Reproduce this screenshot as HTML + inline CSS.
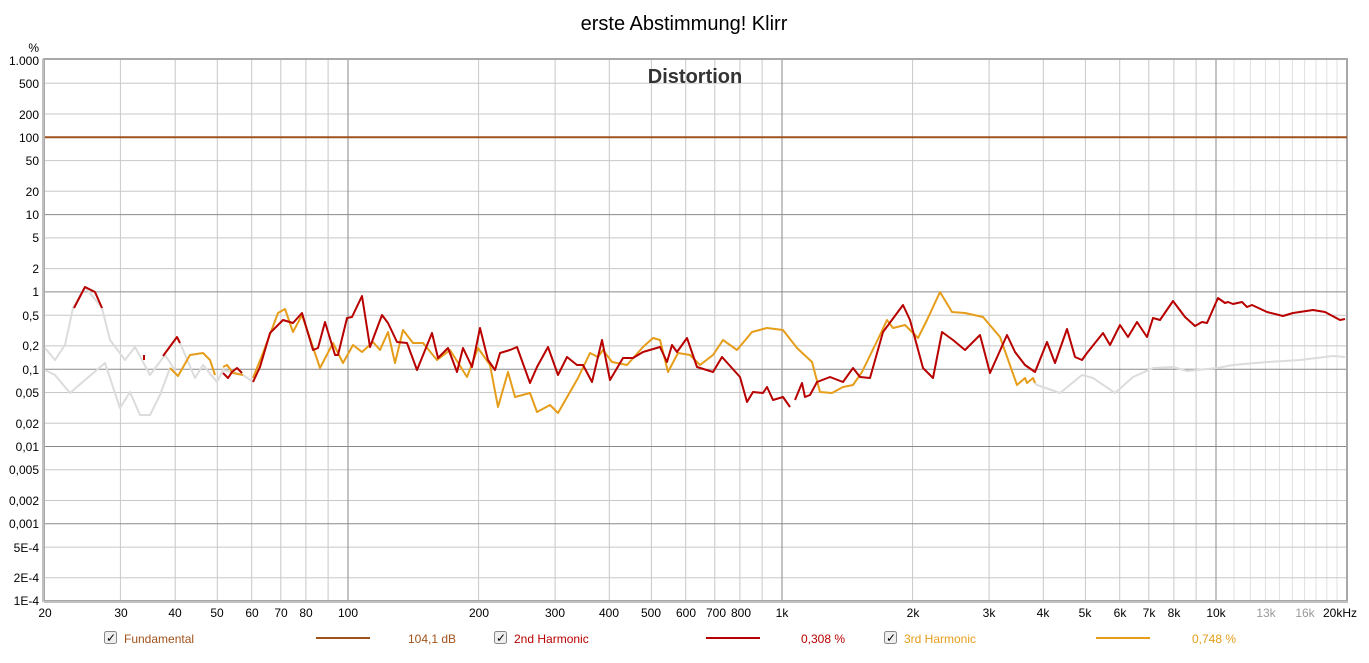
<!DOCTYPE html>
<html><head><meta charset="utf-8"><style>
body{margin:0;background:#fff;width:1369px;height:658px;overflow:hidden;font-family:"Liberation Sans",sans-serif;}
</style></head><body>
<svg width="1369" height="658" xmlns="http://www.w3.org/2000/svg" font-family="Liberation Sans, sans-serif">
<rect width="1369" height="658" fill="#fff"/>
<text x="684" y="30" font-size="20" text-anchor="middle" fill="#000">erste Abstimmung! Klirr</text>
<g stroke="#c8c8c8" stroke-width="1">
<line x1="120.4" y1="60" x2="120.4" y2="601"/><line x1="175.2" y1="60" x2="175.2" y2="601"/><line x1="217.3" y1="60" x2="217.3" y2="601"/><line x1="251.7" y1="60" x2="251.7" y2="601"/><line x1="280.8" y1="60" x2="280.8" y2="601"/><line x1="305.9" y1="60" x2="305.9" y2="601"/><line x1="328.1" y1="60" x2="328.1" y2="601"/>
<line x1="478.6" y1="60" x2="478.6" y2="601"/><line x1="555.1" y1="60" x2="555.1" y2="601"/><line x1="609.3" y1="60" x2="609.3" y2="601"/><line x1="651.4" y1="60" x2="651.4" y2="601"/><line x1="685.7" y1="60" x2="685.7" y2="601"/><line x1="714.8" y1="60" x2="714.8" y2="601"/><line x1="739.9" y1="60" x2="739.9" y2="601"/><line x1="762.1" y1="60" x2="762.1" y2="601"/>
<line x1="912.6" y1="60" x2="912.6" y2="601"/><line x1="989.1" y1="60" x2="989.1" y2="601"/><line x1="1043.3" y1="60" x2="1043.3" y2="601"/><line x1="1085.4" y1="60" x2="1085.4" y2="601"/><line x1="1119.7" y1="60" x2="1119.7" y2="601"/><line x1="1148.8" y1="60" x2="1148.8" y2="601"/><line x1="1173.9" y1="60" x2="1173.9" y2="601"/><line x1="1196.1" y1="60" x2="1196.1" y2="601"/>
</g>
<g stroke="#e0e0e0" stroke-width="1">
<line x1="1234" y1="60" x2="1234" y2="601"/><line x1="1250.4" y1="60" x2="1250.4" y2="601"/><line x1="1265.4" y1="60" x2="1265.4" y2="601"/><line x1="1279.4" y1="60" x2="1279.4" y2="601"/><line x1="1292.4" y1="60" x2="1292.4" y2="601"/><line x1="1304.6" y1="60" x2="1304.6" y2="601"/><line x1="1316" y1="60" x2="1316" y2="601"/><line x1="1326.8" y1="60" x2="1326.8" y2="601"/><line x1="1337" y1="60" x2="1337" y2="601"/>
</g>
<g stroke="#c8c8c8" stroke-width="1">
<line x1="45" y1="83.3" x2="1347" y2="83.3"/><line x1="45" y1="114" x2="1347" y2="114"/><line x1="45" y1="160.6" x2="1347" y2="160.6"/><line x1="45" y1="191.3" x2="1347" y2="191.3"/><line x1="45" y1="237.9" x2="1347" y2="237.9"/><line x1="45" y1="268.6" x2="1347" y2="268.6"/><line x1="45" y1="315.2" x2="1347" y2="315.2"/><line x1="45" y1="345.9" x2="1347" y2="345.9"/><line x1="45" y1="392.5" x2="1347" y2="392.5"/><line x1="45" y1="423.2" x2="1347" y2="423.2"/><line x1="45" y1="469.8" x2="1347" y2="469.8"/><line x1="45" y1="500.5" x2="1347" y2="500.5"/><line x1="45" y1="547.1" x2="1347" y2="547.1"/><line x1="45" y1="577.8" x2="1347" y2="577.8"/>
</g>
<g stroke="#8a8a8a" stroke-width="1">
<line x1="348" y1="60" x2="348" y2="601"/><line x1="782" y1="60" x2="782" y2="601"/><line x1="1216" y1="60" x2="1216" y2="601"/>
<line x1="45" y1="214.6" x2="1347" y2="214.6"/><line x1="45" y1="291.9" x2="1347" y2="291.9"/><line x1="45" y1="369.2" x2="1347" y2="369.2"/><line x1="45" y1="446.5" x2="1347" y2="446.5"/><line x1="45" y1="523.8" x2="1347" y2="523.8"/>
</g>
<rect x="44" y="59" width="1303" height="542" fill="none" stroke="#a8a8a8" stroke-width="2"/>
<line x1="43" y1="59" x2="43" y2="602" stroke="#c0c0c0" stroke-width="2"/>
<line x1="44" y1="602" x2="1348" y2="602" stroke="#c0c0c0" stroke-width="2"/>
<text x="695" y="83" font-size="20" font-weight="bold" text-anchor="middle" fill="#333">Distortion</text>
<line x1="45" y1="137.3" x2="1347" y2="137.3" stroke="#a0521d" stroke-width="2"/>
<g fill="none" stroke-width="2" stroke-linejoin="round">
<polyline stroke="#dcdcdc" points="45,348 55,360 65,345 73,308 85,287 102,308 110,340 125,360 135,347 150,375 165,355 175,370"/>
<polyline stroke="#dcdcdc" points="45,370 55,375 70,393 85,380 105,363 120,408 130,392 140,415 150,415 160,395 170,368"/>
<polyline stroke="#dcdcdc" points="180,343 195,378 203,365 217,382 223,370 243,375 253,382"/>
<polyline stroke="#dcdcdc" points="1035,383 1037,385 1060,393 1082,375 1093,378 1115,393 1133,377 1153,368 1173,367 1187,371 1217,368 1233,365 1267,362 1300,360 1333,356 1345,357"/>
<polyline stroke="#e59d1a" points="170,368 178,376 190,355 203,353 210,360 215,375"/>
<polyline stroke="#e59d1a" points="223,367 227,365 233,373 243,375"/>
<polyline stroke="#e59d1a" points="253,378 263,353 278,313 285,309 293,332 302,315 320,368 333,343 343,363 353,345 362,352 373,342 380,350 388,332 395,363 403,330 413,343 423,343 437,360 450,350 467,377 478,348 490,365 498,407 508,372 515,397 530,393 537,412 550,405 558,413 578,378 590,353 598,357 603,350 612,362 627,365 643,347 653,338 660,340 668,372 678,353 690,355 700,365 713,355 723,340 737,350 752,332 767,328 783,330 797,348 812,362 820,392 832,393 843,387 853,385 862,372 880,335 887,320 893,328 905,325 918,338 927,320 940,292 952,312 965,313 983,317 1000,337 1017,385 1025,378 1027,383 1033,378 1035,383"/>
<polyline stroke="#b80000" points="74,308 85,287 95,292 102,308"/>
<polyline stroke="#b80000" points="163,356 177,337 180,343"/>
<polyline stroke="#b80000" points="144,355 144,360"/>
<polyline stroke="#b80000" points="223,373 228,378 232,372 237,368 242,373"/>
<polyline stroke="#b80000" points="253,382 260,367 270,333 283,320 293,323 302,313 313,350 318,348 325,322 335,355 338,355 347,318 352,317 362,296 370,347 382,315 388,323 397,342 407,343 417,370 432,333 438,358 448,348 457,372 463,348 472,367 480,328 488,360 495,370 500,353 510,350 517,347 530,383 537,367 548,347 558,375 567,357 577,365 583,365 592,382 602,340 610,380 623,358 633,358 643,352 660,347 667,362 672,345 677,352 687,338 697,367 713,372 722,357 740,377 747,402 753,392 763,393 767,387 773,400 783,397 790,407"/>
<polyline stroke="#b80000" points="795,400 802,383 805,397 810,395 817,382 830,377 843,382 853,368 860,377 870,378 883,332 903,305 910,320 923,368 933,378 942,332 953,340 965,350 980,335 990,373 1007,335 1015,352 1025,365 1035,372 1047,342 1055,363 1067,329 1075,357 1082,360 1087,353 1103,333 1110,345 1120,325 1128,337 1137,322 1147,337 1153,318 1160,320 1173,301 1185,317 1195,326 1202,322 1207,323 1218,298 1225,303 1228,302 1233,304 1242,302 1247,307 1252,305 1267,312 1283,316 1293,313 1313,310 1325,312 1340,320 1345,319"/>
</g>
<g font-size="12" fill="#000" text-anchor="end">
<text x="39" y="52">%</text>
<text x="39" y="65">1.000</text><text x="39" y="88">500</text><text x="39" y="119">200</text><text x="39" y="142">100</text><text x="39" y="165">50</text><text x="39" y="196">20</text><text x="39" y="219">10</text><text x="39" y="242">5</text><text x="39" y="273">2</text><text x="39" y="296">1</text><text x="39" y="320">0,5</text><text x="39" y="350">0,2</text><text x="39" y="374">0,1</text><text x="39" y="397">0,05</text><text x="39" y="428">0,02</text><text x="39" y="451">0,01</text><text x="39" y="474">0,005</text><text x="39" y="505">0,002</text><text x="39" y="528">0,001</text><text x="39" y="552">5E-4</text><text x="39" y="582">2E-4</text><text x="39" y="605">1E-4</text>
</g>
<g font-size="12" fill="#000" text-anchor="middle">
<text x="45" y="617">20</text><text x="121" y="617">30</text><text x="175" y="617">40</text><text x="217" y="617">50</text><text x="252" y="617">60</text><text x="281" y="617">70</text><text x="306" y="617">80</text><text x="348" y="617">100</text><text x="479" y="617">200</text><text x="555" y="617">300</text><text x="609" y="617">400</text><text x="651" y="617">500</text><text x="686" y="617">600</text><text x="716" y="617">700</text><text x="741" y="617">800</text><text x="782" y="617">1k</text><text x="913" y="617">2k</text><text x="989" y="617">3k</text><text x="1043" y="617">4k</text><text x="1085" y="617">5k</text><text x="1120" y="617">6k</text><text x="1149" y="617">7k</text><text x="1174" y="617">8k</text><text x="1216" y="617">10k</text><text x="1266" y="617" fill="#999">13k</text><text x="1305" y="617" fill="#999">16k</text><text x="1340" y="617">20kHz</text>
</g>
<g font-size="12">
<rect x="104.5" y="631.5" width="12" height="12" rx="2" fill="#eee" stroke="#888"/><text x="106" y="642" font-size="12" fill="#000">✓</text>
<text x="124" y="643" fill="#a0521d">Fundamental</text>
<line x1="316" y1="638" x2="370" y2="638" stroke="#a0521d" stroke-width="2"/>
<text x="408" y="643" fill="#a0521d">104,1 dB</text>
<rect x="494.5" y="631.5" width="12" height="12" rx="2" fill="#eee" stroke="#888"/><text x="496" y="642" fill="#000">✓</text>
<text x="514" y="643" fill="#b80000">2nd Harmonic</text>
<line x1="706" y1="638" x2="760" y2="638" stroke="#b80000" stroke-width="2"/>
<text x="801" y="643" fill="#b80000">0,308 %</text>
<rect x="884.5" y="631.5" width="12" height="12" rx="2" fill="#eee" stroke="#888"/><text x="886" y="642" fill="#000">✓</text>
<text x="904" y="643" fill="#e59d1a">3rd Harmonic</text>
<line x1="1096" y1="638" x2="1150" y2="638" stroke="#e59d1a" stroke-width="2"/>
<text x="1192" y="643" fill="#e59d1a">0,748 %</text>
</g>
</svg>
</body></html>
